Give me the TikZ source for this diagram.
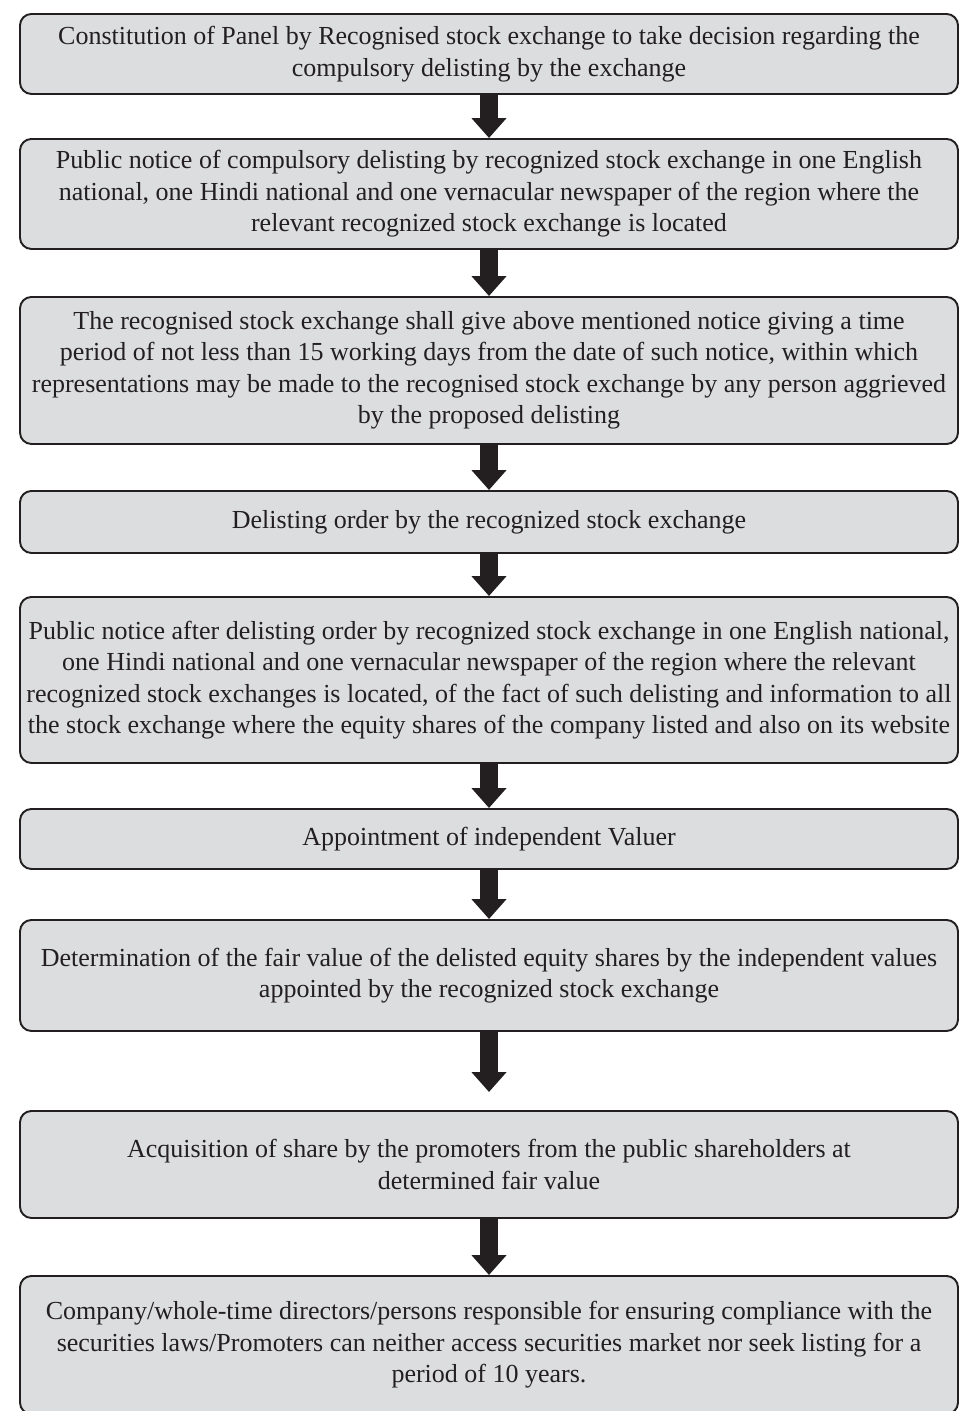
\documentclass[tikz,border=0pt]{standalone}
\usepackage{fontspec}
\setmainfont{Liberation Serif}
\usetikzlibrary{arrows.meta}
\definecolor{boxgray}{RGB}{220,221,223}
\definecolor{inkdark}{RGB}{35,31,32}

\begin{document}
\begin{tikzpicture}[
  stepbox/.style={draw=inkdark,fill=boxgray,line width=1.1pt,rounded corners=6.5pt,
    minimum width=18.760cm,align=center,inner xsep=0.05cm,
    text=inkdark,font=\fontsize{14.8}{17.9}\selectfont,anchor=north},
  flowarrow/.style={draw=inkdark,line width=0.36cm,
    -{Triangle[width=0.68cm,length=0.40cm]},fill=inkdark}
]
\useasboundingbox (0.000,0.000) rectangle (19.200,-28.220);
\node[stepbox,minimum height=1.600cm] (b1) at (9.780,-0.260)
  {Constitution of Panel by Recognised stock exchange to take decision regarding the\\
   compulsory delisting by the exchange};
\node[stepbox,minimum height=2.200cm] (b2) at (9.780,-2.760)
  {Public notice of compulsory delisting by recognized stock exchange in one English\\
   national, one Hindi national and one vernacular newspaper of the region where the\\
   relevant recognized stock exchange is located};
\node[stepbox,minimum height=2.940cm] (b3) at (9.780,-5.920)
  {The recognised stock exchange shall give above mentioned notice giving a time\\
   period of not less than 15 working days from the date of such notice, within which\\
   representations may be made to the recognised stock exchange by any person aggrieved\\
   by the proposed delisting};
\node[stepbox,minimum height=1.240cm] (b4) at (9.780,-9.800)
  {Delisting order by the recognized stock exchange};
\node[stepbox,minimum height=3.320cm] (b5) at (9.780,-11.920)
  {Public notice after delisting order by recognized stock exchange in one English national,\\
   one Hindi national and one vernacular newspaper of the region where the relevant\\
   recognized stock exchanges is located, of the fact of such delisting and information to all\\
   the stock exchange where the equity shares of the company listed and also on its website};
\node[stepbox,minimum height=1.200cm] (b6) at (9.780,-16.160)
  {Appointment of independent Valuer};
\node[stepbox,minimum height=2.220cm] (b7) at (9.780,-18.380)
  {Determination of the fair value of the delisted equity shares by the independent values\\
   appointed by the recognized stock exchange};
\node[stepbox,minimum height=2.140cm] (b8) at (9.780,-22.200)
  {Acquisition of share by the promoters from the public shareholders at\\
   determined fair value};
\node[stepbox,minimum height=2.760cm] (b9) at (9.780,-25.500)
  {Company/whole-time directors/persons responsible for ensuring compliance with the\\
   securities laws/Promoters can neither access securities market nor seek listing for a\\
   period of 10 years.};
% block arrows between the steps
\draw[flowarrow] (b1.south) -- (b2.north);
\draw[flowarrow] (b2.south) -- (b3.north);
\draw[flowarrow] (b3.south) -- (b4.north);
\draw[flowarrow] (b4.south) -- (b5.north);
\draw[flowarrow] (b5.south) -- (b6.north);
\draw[flowarrow] (b6.south) -- (b7.north);
\draw[flowarrow,shorten >=0.360cm] (b7.south) -- (b8.north);
\draw[flowarrow] (b8.south) -- (b9.north);
\end{tikzpicture}
\end{document}
